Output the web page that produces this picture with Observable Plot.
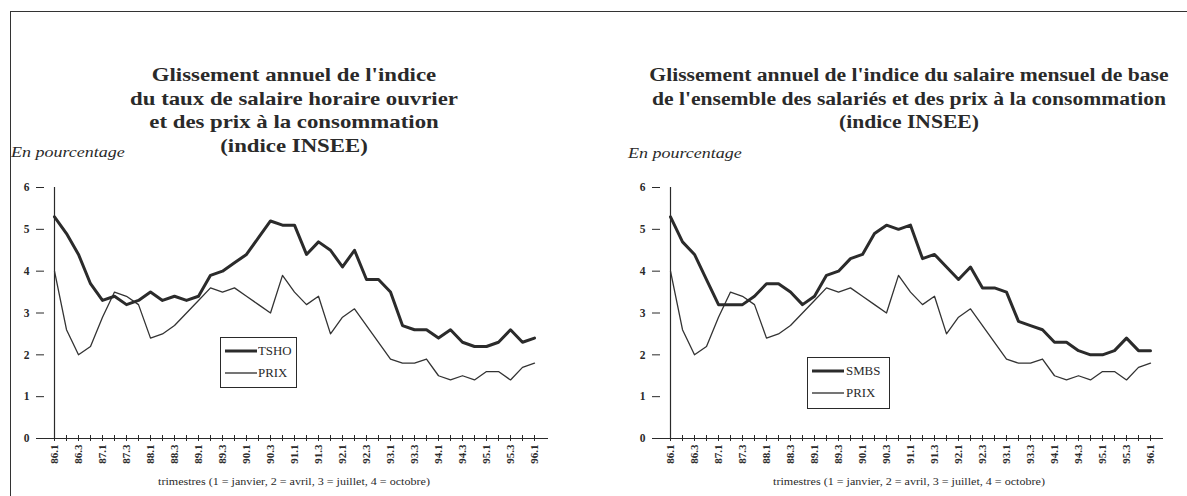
<!DOCTYPE html>
<html><head><meta charset="utf-8">
<script src="https://cdn.jsdelivr.net/npm/d3@7"></script>
<script src="https://cdn.jsdelivr.net/npm/@observablehq/plot@0.6"></script>
<style>
body{margin:0;background:#fff;}
#page{position:relative;width:1187px;height:496px;overflow:hidden;background:#fff;font-family:"Liberation Serif","DejaVu Serif",serif;color:#2a2a2a;}
.title{position:absolute;text-align:center;font-weight:bold;line-height:23.5px;white-space:nowrap;transform:scaleX(1.2);transform-origin:center top;}
.unit{position:absolute;font-style:italic;font-size:15px;line-height:16px;transform:scaleX(1.2);transform-origin:left top;white-space:nowrap;}
.cap{position:absolute;text-align:center;font-size:10.5px;line-height:12px;white-space:nowrap;transform:scaleX(1.15);transform-origin:center top;}
.plot{position:absolute;}
.legend{position:absolute;border:1.3px solid #2a2a2a;background:#fff;font-size:11.5px;}
.legend .row{position:absolute;left:0;right:0;height:14px;}
.legend svg{position:absolute;left:4px;top:0;}
.legend span{position:absolute;top:0;line-height:14px;transform:scaleX(1.12);transform-origin:left top;}
.frameTop{position:absolute;left:10px;top:11px;width:1177px;height:0;border-top:1.6px solid #333;}
.frameLeft{position:absolute;left:10px;top:11px;width:0;height:485px;border-left:1.6px solid #333;}
</style>
</head><body>
<div id="page">
  <div class="frameTop"></div>
  <div class="frameLeft"></div>
  <div class="title" id="t1" style="left:94px;top:63px;width:400px;font-size:19px;"></div>
  <div class="title" id="t2" style="left:609px;top:64px;width:600px;font-size:18px;"></div>
  <div class="unit" style="left:11px;top:144px;">En pourcentage</div>
  <div class="unit" style="left:628px;top:145px;">En pourcentage</div>
  <div class="plot" id="p1" style="left:0px;top:175px;"></div>
  <div class="plot" id="p2" style="left:600px;top:175px;"></div>
  <div class="cap" id="c1" style="left:94px;top:476px;width:400px;"></div>
  <div class="cap" id="c2" style="left:709px;top:476px;width:400px;"></div>
  <div class="legend" id="l1" style="left:220px;top:337px;width:75px;height:49px;"></div>
  <div class="legend" id="l2" style="left:807px;top:357px;width:81px;height:50px;"></div>
</div>
<script>
const quarters = ["86.1","86.2","86.3","86.4","87.1","87.2","87.3","87.4","88.1","88.2","88.3","88.4",
  "89.1","89.2","89.3","89.4","90.1","90.2","90.3","90.4","91.1","91.2","91.3","91.4",
  "92.1","92.2","92.3","92.4","93.1","93.2","93.3","93.4","94.1","94.2","94.3","94.4",
  "95.1","95.2","95.3","95.4","96.1"];
const tickLabels = ["86.1","86.3","87.1","87.3","88.1","88.3","89.1","89.3","90.1","90.3","91.1",
  "91.3","92.1","92.3","93.1","93.3","94.1","94.3","95.1","95.3","96.1"];
const yTicks = [0,1,2,3,4,5,6];
const tsho = [5.3,4.9,4.4,3.7,3.3,3.4,3.2,3.3,3.5,3.3,3.4,3.3,3.4,3.9,4.0,4.2,4.4,4.8,5.2,5.1,
  5.1,4.4,4.7,4.5,4.1,4.5,3.8,3.8,3.5,2.7,2.6,2.6,2.4,2.6,2.3,2.2,2.2,2.3,2.6,2.3,2.4];
const smbs = [5.3,4.7,4.4,3.8,3.2,3.2,3.2,3.4,3.7,3.7,3.5,3.2,3.4,3.9,4.0,4.3,4.4,4.9,5.1,5.0,
  5.1,4.3,4.4,4.1,3.8,4.1,3.6,3.6,3.5,2.8,2.7,2.6,2.3,2.3,2.1,2.0,2.0,2.1,2.4,2.1,2.1];
const prix = [4.0,2.6,2.0,2.2,2.9,3.5,3.4,3.2,2.4,2.5,2.7,3.0,3.3,3.6,3.5,3.6,3.4,3.2,3.0,3.9,
  3.5,3.2,3.4,2.5,2.9,3.1,2.7,2.3,1.9,1.8,1.8,1.9,1.5,1.4,1.5,1.4,1.6,1.6,1.4,1.7,1.8];
const title1 = ["Glissement annuel de l'indice","du taux de salaire horaire ouvrier","et des prix à la consommation","(indice INSEE)"];
const title2 = ["Glissement annuel de l'indice du salaire mensuel de base","de l'ensemble des salariés et des prix à la consommation","(indice INSEE)"];
const caption = "trimestres (1 = janvier, 2 = avril, 3 = juillet, 4 = octobre)";
const names1 = ["TSHO","PRIX"];
const names2 = ["SMBS","PRIX"];

document.getElementById("t1").innerHTML = title1.join("<br>");
document.getElementById("t2").innerHTML = title2.join("<br>");
document.getElementById("c1").textContent = caption;
document.getElementById("c2").textContent = caption;

const ink = "#2a2a2a";
function panel(main, width, mLeft, mRight) {
  const rows = quarters.map((q, i) => ({q, v: main[i]}));
  const prow = quarters.map((q, i) => ({q, v: prix[i]}));
  return Plot.plot({
    width, height: 300,
    marginLeft: mLeft, marginRight: mRight, marginTop: 12, marginBottom: 37,
    x: {type: "point", domain: quarters, padding: 0},
    y: {domain: [0, 6]},
    style: {fontFamily: "'Liberation Serif', serif", fontSize: "11px", fontWeight: "bold", color: ink, background: "transparent"},
    marks: [
      Plot.ruleX([quarters[0]], {stroke: ink, strokeWidth: 1.2}),
      Plot.ruleY([0], {stroke: ink, strokeWidth: 1.2}),
      Plot.axisY({ticks: yTicks, tickSize: 4, tickPadding: 7, tickFormat: d => String(d), label: null, fontSize: 11.5, stroke: ink}),
      Plot.axisY({ticks: yTicks, tickSize: -4, tickFormat: () => "", label: null, stroke: ink}),
      Plot.axisX({ticks: quarters, tickSize: 3, tickFormat: () => "", label: null, stroke: ink}),
      Plot.axisX({ticks: quarters, tickSize: -3, tickFormat: () => "", label: null, stroke: ink}),
      Plot.axisX({ticks: tickLabels, tickSize: 0, tickPadding: 6, tickRotate: -90, label: null, style: {letterSpacing: "1px"}}),
      Plot.line(prow, {x: "q", y: "v", stroke: "#333", strokeWidth: 1.3}),
      Plot.line(rows, {x: "q", y: "v", stroke: "#2b2b2b", strokeWidth: 3})
    ]
  });
}
document.getElementById("p1").appendChild(panel(tsho, 600, 40, 52));
document.getElementById("p2").appendChild(panel(smbs, 587, 56, 24));

function legend(id, names, textLeft) {
  const el = document.getElementById(id);
  const widths = [3, 1.3];
  names.forEach((n, k) => {
    const row = document.createElement("div");
    row.className = "row";
    row.style.top = (k === 0 ? 6 : 28) + "px";
    row.innerHTML = `<svg width="32" height="14"><line x1="0" x2="32" y1="7" y2="7" stroke="#2b2b2b" stroke-width="${widths[k]}"/></svg><span style="left:${textLeft}px">${n}</span>`;
    el.appendChild(row);
  });
}
legend("l1", names1, 37);
legend("l2", names2, 38);
</script>
</body></html>
